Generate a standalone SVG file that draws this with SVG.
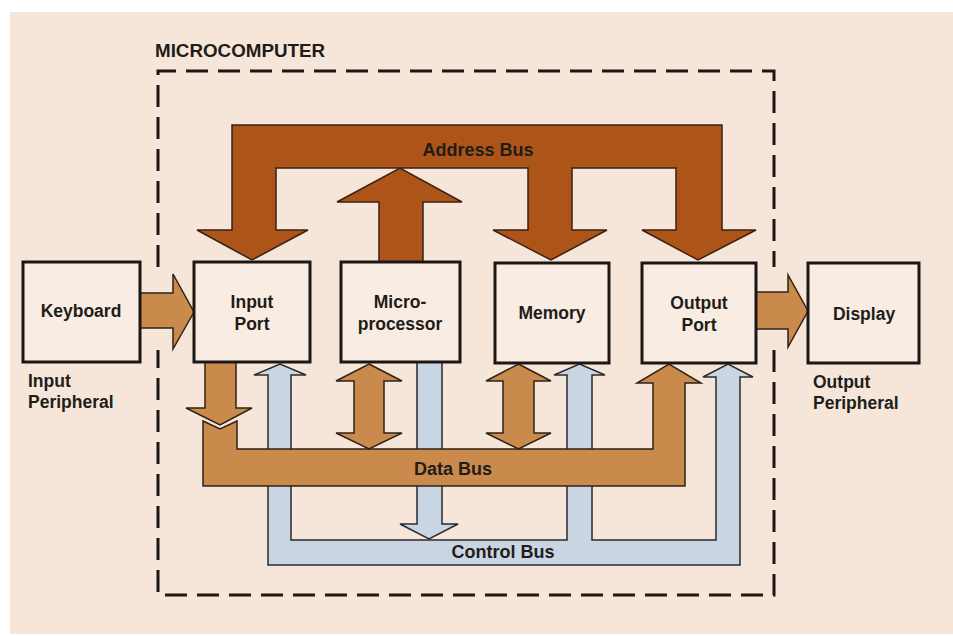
<svg xmlns="http://www.w3.org/2000/svg" width="953" height="636" viewBox="0 0 953 636">
<style>
.lbl{font-family:"Liberation Sans",Arial,Helvetica,sans-serif;font-weight:bold;fill:#221c18;}
.box{fill:#f8ece3;stroke:#1c1714;stroke-width:3;}
.addr{fill:#ad5518;stroke:#3a2010;stroke-width:1.5;stroke-linejoin:miter;}
.data{fill:#c98a4c;stroke:#2e2218;stroke-width:1.5;stroke-linejoin:miter;}
.ctrl{fill:#c9d5e2;stroke:#2a2a2e;stroke-width:1.5;stroke-linejoin:miter;}
.dash{fill:none;stroke:#1c1714;stroke-width:3;stroke-dasharray:22 10;}
</style>
<rect x="0" y="0" width="953" height="636" fill="#ffffff"/>
<rect x="10" y="12" width="943" height="622" fill="#f6e6da"/>

<g id="microcomputer">
<text class="lbl" x="155" y="57" font-size="18.8">MICROCOMPUTER</text>
<path class="dash" d="M158,267 L158,71 L774,71 L774,267 M774,350 L774,595 L158,595 L158,350"/>
</g>

<g id="connectors">
<!-- Control bus -->
<path id="control-bus" class="ctrl" d="M268,565 L268,375 L254,375 L280,364 L306,375 L291,375 L291,540 L567,540 L567,375 L554,375 L579.5,364 L605,375 L592,375 L592,540 L716,540 L716,377 L703,377 L728,364 L753,377 L740,377 L740,565 Z"/>
<path id="micro-to-control" class="ctrl" d="M417,362 L442,362 L442,524 L458,524 L429,539 L400,524 L417,524 Z"/>
<text class="lbl" x="503" y="558" font-size="18" text-anchor="middle">Control Bus</text>

<!-- Data bus -->
<path id="data-bus" class="data" d="M203,421 L220,429 L237,421 L237,449 L653,449 L653,383 L637,383 L669,364 L701,383 L685,383 L685,486 L203,486 Z"/>
<path id="input-to-data" class="data" d="M205,362 L236,362 L236,408 L252,408 L220,425 L186,408 L205,408 Z"/>
<path id="micro-data" class="data" d="M369,364 L402,381 L384,381 L384,433 L402,433 L369,449 L336,433 L354,433 L354,381 L336,381 Z"/>
<path id="memory-data" class="data" d="M518.5,364 L551,381 L534,381 L534,433 L551,433 L518.5,449 L486,433 L503,433 L503,381 L486,381 Z"/>
<text class="lbl" x="453" y="475" font-size="18" text-anchor="middle">Data Bus</text>

<!-- Address bus -->
<path id="address-bus" class="addr" d="M232,125 L722,125 L722,230 L756,230 L698,260 L642,230 L676,230 L676,168 L572,168 L572,230 L607,230 L551,260 L493,230 L528,230 L528,168 L276,168 L276,230 L308,230 L252,260 L197,230 L232,230 Z"/>
<path id="micro-to-address" class="addr" d="M379,262 L379,202 L337,202 L400,168 L462,202 L423,202 L423,262 Z"/>
<text class="lbl" x="478" y="156" font-size="18" text-anchor="middle" fill="#2a140a">Address Bus</text>

<!-- Peripheral arrows -->
<path id="keyboard-to-input" class="data" d="M140,293 L173,293 L173,274 L194,312 L173,349 L173,328 L140,328 Z"/>
<path id="output-to-display" class="data" d="M756,292 L788,292 L788,275 L808,311 L788,347 L788,329 L756,329 Z"/>
</g>

<g id="keyboard">
<rect class="box" x="23" y="262" width="117" height="100"/>
<text class="lbl" x="81" y="317" font-size="17.5" text-anchor="middle">Keyboard</text>
<text class="lbl" x="28" y="387" font-size="17.5">Input</text>
<text class="lbl" x="28" y="408" font-size="17.5">Peripheral</text>
</g>

<g id="input-port">
<rect class="box" x="194" y="262" width="116" height="100"/>
<text class="lbl" x="252" y="308" font-size="17.5" text-anchor="middle">Input</text>
<text class="lbl" x="252" y="330" font-size="17.5" text-anchor="middle">Port</text>
</g>

<g id="microprocessor">
<rect class="box" x="341" y="262" width="119" height="100"/>
<text class="lbl" x="400" y="308" font-size="17.5" text-anchor="middle">Micro-</text>
<text class="lbl" x="400" y="330" font-size="17.5" text-anchor="middle">processor</text>
</g>

<g id="memory">
<rect class="box" x="495" y="263" width="114" height="100"/>
<text class="lbl" x="552" y="319" font-size="17.5" text-anchor="middle">Memory</text>
</g>

<g id="output-port">
<rect class="box" x="642" y="263" width="114" height="100"/>
<text class="lbl" x="699" y="309" font-size="17.5" text-anchor="middle">Output</text>
<text class="lbl" x="699" y="331" font-size="17.5" text-anchor="middle">Port</text>
</g>

<g id="display">
<rect class="box" x="808" y="263" width="111" height="100"/>
<text class="lbl" x="864" y="320" font-size="17.5" text-anchor="middle">Display</text>
<text class="lbl" x="813" y="388" font-size="17.5">Output</text>
<text class="lbl" x="813" y="409" font-size="17.5">Peripheral</text>
</g>
</svg>
